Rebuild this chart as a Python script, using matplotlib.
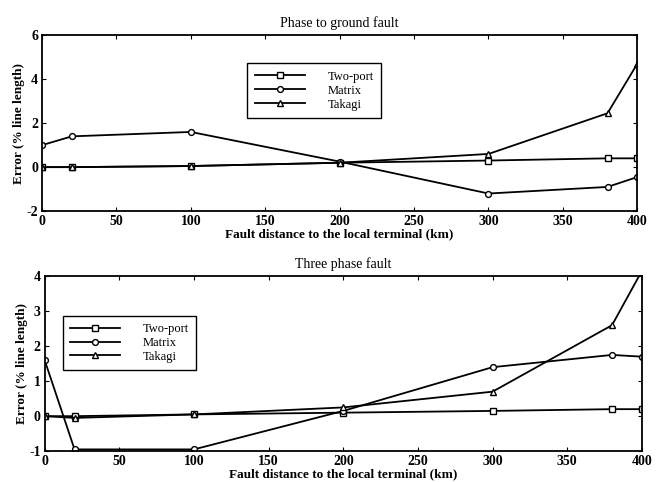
import numpy as np
import matplotlib.pyplot as plt

plt.rcParams['font.family'] = ['Liberation Serif', 'DejaVu Serif']
plt.rcParams['axes.unicode_minus'] = False

# fault distance (km)
dist = [0, 20, 100, 200, 300, 380, 400]

# phase to ground fault, error (% line length)
pg_twoport = [0.0, 0.0, 0.05, 0.2, 0.3, 0.4, 0.4]
pg_matrix = [1.0, 1.4, 1.6, 0.25, -1.2, -0.9, -0.45]
pg_takagi = [0.0, 0.0, 0.05, 0.2, 0.6, 2.45, 4.7]

# three phase fault, error (% line length)
tp_twoport = [0.0, 0.0, 0.05, 0.1, 0.15, 0.2, 0.2]
tp_matrix = [1.6, -0.95, -0.95, 0.15, 1.4, 1.75, 1.7]
tp_takagi = [0.0, -0.05, 0.05, 0.25, 0.7, 2.6, 4.15]

names = ['Two-port', 'Matrix', 'Takagi']
marks = ['s', 'o', '^']

fig = plt.figure(figsize=(6.57, 4.82), dpi=100)
ax1 = fig.add_axes([0.064, 0.562, 0.906, 0.365])
ax2 = fig.add_axes([0.068, 0.064, 0.909, 0.363])


def draw(ax, series, title, ylim, yticks, legpos):
    for vals, nm, mk in zip(series, names, marks):
        ax.plot(dist, vals, color='black', lw=1.3, marker=mk, ms=4.2,
                mfc='white', mec='black', mew=1.0, label=nm)
    ax.set_xlim(0, 400)
    ax.set_ylim(*ylim)
    ax.set_xticks(np.arange(0, 401, 50))
    ax.set_yticks(yticks)
    ax.tick_params(direction='in', top=True, right=True, length=3,
                   labelsize=10, pad=3)
    for lab in ax.get_xticklabels() + ax.get_yticklabels():
        lab.set_fontweight('bold')
    for s in ax.spines.values():
        s.set_linewidth(1.3)
    ax.set_title(title, fontsize=10, pad=6)
    ax.set_xlabel('Fault distance to the local terminal (km)', fontsize=9.5,
                  fontweight='bold', labelpad=0)
    ax.set_ylabel('Error (% line length)', fontsize=9.5, fontweight='bold',
                  labelpad=1)
    leg = ax.legend(loc='upper left', bbox_to_anchor=legpos, fontsize=9,
                    handlelength=4.0, handletextpad=1.8, borderpad=0.6,
                    labelspacing=0.15, fancybox=False, edgecolor='black',
                    framealpha=1, borderaxespad=0)
    leg.get_frame().set_linewidth(1.0)


draw(ax1, [pg_twoport, pg_matrix, pg_takagi], 'Phase to ground fault',
     (-2, 6), [-2, 0, 2, 4, 6], (0.345, 0.84))
draw(ax2, [tp_twoport, tp_matrix, tp_takagi], 'Three phase fault',
     (-1, 4), [-1, 0, 1, 2, 3, 4], (0.030, 0.775))

fig.savefig('out.png', dpi=100)
